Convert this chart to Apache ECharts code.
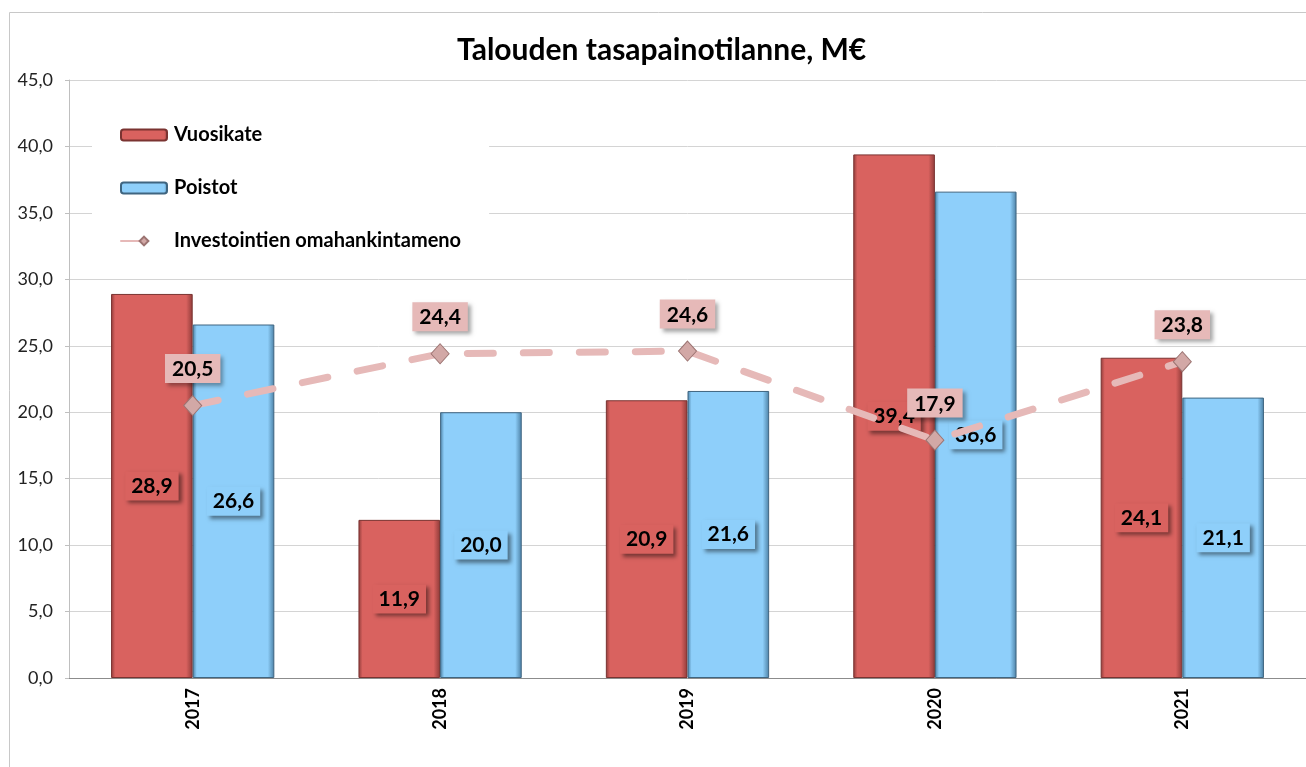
<!DOCTYPE html>
<html>
<head>
<meta charset="utf-8">
<title>Talouden tasapainotilanne</title>
<script src="https://cdn.jsdelivr.net/npm/echarts@6/dist/echarts.min.js"></script>
<style>
  html, body { margin: 0; padding: 0; background: #fff; }
  #main { width: 1306px; height: 767px; }
</style>
</head>
<body>
<div id="main"></div>
<script>
// vuodet ja sarjat
var years = ['2017', '2018', '2019', '2020', '2021'];
var vuosikate = [28.9, 11.9, 20.9, 39.4, 24.1];
var poistot = [26.6, 20.0, 21.6, 36.6, 21.1];
var investoinnit = [20.5, 24.4, 24.6, 17.9, 23.8];
var yTicks = { min: 0, max: 45, step: 5 };

var FONT = 'Lato, "Open Sans", sans-serif';

function fi(v, d) {
  return v.toFixed(d).replace('.', ',');
}

// "3D" reunat pylväisiin
function bevel(main, dark) {
  return new echarts.graphic.LinearGradient(0, 0, 1, 0, [
    { offset: 0, color: dark },
    { offset: 0.05, color: main },
    { offset: 0.92, color: main },
    { offset: 1, color: dark }
  ]);
}

function barLabel(bg) {
  return {
    show: true,
    position: 'inside',
    formatter: function (p) { return fi(p.value, 1); },
    fontFamily: FONT,
    fontSize: 21,
    fontWeight: 'bold',
    color: '#000',
    backgroundColor: bg,
    padding: [5, 6, 3, 6],
    shadowColor: 'rgba(0,0,0,0.45)',
    shadowBlur: 4,
    shadowOffsetX: 3,
    shadowOffsetY: 3
  };
}

var chart = echarts.init(document.getElementById('main'));
var option = {
  backgroundColor: '#fff',
  animation: false,
  graphic: [{
    type: 'rect',
    shape: { x: 9.5, y: 12.5, width: 1400, height: 900 },
    style: { fill: 'none', stroke: '#c8c8c8', lineWidth: 1 },
    silent: true, z: -1
  }],
  title: {
    text: 'Talouden tasapainotilanne, M€',
    left: 452,
    top: 30,
    textStyle: { fontFamily: FONT, fontSize: 30, fontWeight: 'bold', color: '#000' }
  },
  legend: {
    orient: 'vertical',
    left: 92,
    top: 107,
    padding: [18, 28, 18, 28],
    backgroundColor: '#fff',
    itemWidth: 46,
    itemHeight: 11,
    itemGap: 33,
    textStyle: { fontFamily: FONT, fontSize: 20, fontWeight: 'bold', color: '#000', padding: [0, 0, 0, 2] },
    data: ['Vuosikate', 'Poistot', 'Investointien omahankintameno']
  },
  grid: { left: 69, right: -3, top: 80, bottom: 89, containLabel: false },
  xAxis: {
    type: 'category',
    data: years,
    axisLine: { lineStyle: { color: '#8c8c8c', width: 1 } },
    axisTick: { show: false },
    axisLabel: { rotate: 90, margin: 10, fontFamily: FONT, fontSize: 18, fontWeight: 'bold', color: '#000' }
  },
  yAxis: {
    type: 'value',
    min: yTicks.min,
    max: yTicks.max,
    interval: yTicks.step,
    axisLine: { show: true, lineStyle: { color: '#bfbfbf' } },
    axisTick: { show: true, length: 4, lineStyle: { color: '#bfbfbf' } },
    splitLine: { lineStyle: { color: '#d4d4d4', width: 1 } },
    axisLabel: {
      margin: 16,
      fontFamily: FONT, fontSize: 18, color: '#222',
      formatter: function (v) { return fi(v, 1); }
    }
  },
  series: [
    {
      name: 'Vuosikate',
      type: 'bar',
      data: vuosikate,
      barGap: '0%',
      barCategoryGap: '34%',
      itemStyle: { color: bevel('#d9625f', '#8f3b39'), borderColor: '#7a3331', borderWidth: 1 },
      label: barLabel('#d9625f'),
      z: 2
    },
    {
      name: 'Poistot',
      type: 'bar',
      data: poistot,
      itemStyle: { color: bevel('#8ecffa', '#4b7fa3'), borderColor: '#3f6580', borderWidth: 1 },
      label: barLabel('#8ecffa'),
      z: 2
    },
    {
      name: 'Investointien omahankintameno',
      type: 'line',
      data: investoinnit,
      symbol: 'diamond',
      symbolSize: [18, 20],
      itemStyle: { color: '#d2a8a6', borderColor: '#9c7472', borderWidth: 1 },
      lineStyle: { color: '#e6b9b8', width: 7, type: [26, 30], cap: 'round' },
      label: {
        show: true,
        position: 'top',
        distance: 12,
        formatter: function (p) { return fi(p.value, 1); },
        fontFamily: FONT,
        fontSize: 21,
        fontWeight: 'bold',
        color: '#000',
        backgroundColor: '#e6b9b8',
        padding: [5, 7, 3, 7],
        shadowColor: 'rgba(0,0,0,0.35)',
        shadowBlur: 4,
        shadowOffsetX: 3,
        shadowOffsetY: 3
      },
      z: 5
    }
  ]
};
chart.setOption(option);
</script>
</body>
</html>
